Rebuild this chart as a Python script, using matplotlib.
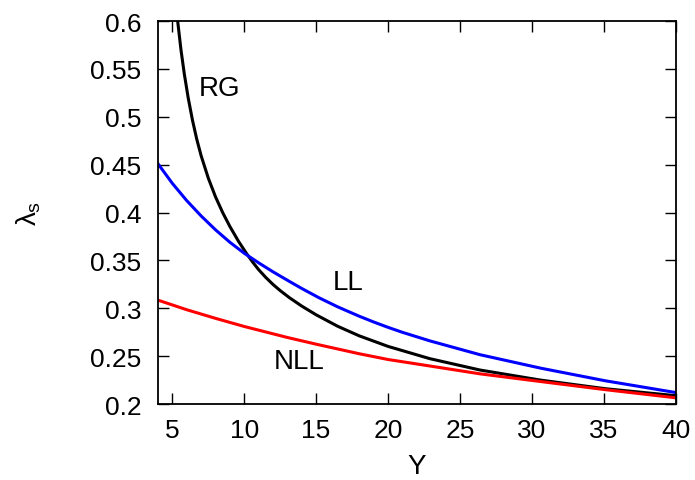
import matplotlib
matplotlib.use("Agg")
import matplotlib.pyplot as plt

plt.rcParams['font.family'] = ['Liberation Sans', 'DejaVu Sans']
plt.rcParams['mathtext.fontset'] = 'custom'
plt.rcParams['mathtext.rm'] = 'Liberation Sans'
plt.rcParams['mathtext.it'] = 'Liberation Sans'

# lambda_s vs Y for the three approximations
rg_y = [5.37, 5.6, 5.83, 6.1, 6.4, 6.7, 7.0, 7.5, 8.0, 8.5, 9.0, 9.6, 10.17,
        10.6, 11.0, 11.5, 12.0, 12.5, 13.15, 14.0, 15.0, 16.5, 18.0, 20.0,
        22.9, 26.4, 30.6, 35.1, 40.0]
rg_lam = [0.600, 0.570, 0.545, 0.520, 0.4965, 0.4765, 0.4595, 0.436, 0.4165,
          0.400, 0.3855, 0.370, 0.357, 0.348, 0.3404, 0.3322, 0.3249, 0.3185,
          0.311, 0.3023, 0.2932, 0.2812, 0.2712, 0.2602, 0.2474, 0.2355,
          0.225, 0.216, 0.2087]

ll_y = [4.0, 5.0, 6.0, 7.0, 8.0, 9.0, 10.0, 11.0, 12.0, 13.15, 14.0, 15.2,
        16.5, 18.0, 19.0, 20.0, 21.0, 22.9, 26.4, 30.6, 35.1, 40.0]
ll_lam = [0.451, 0.4305, 0.4125, 0.3965, 0.382, 0.369, 0.3575, 0.3475, 0.3381,
          0.328, 0.3207, 0.311, 0.3015, 0.2917, 0.2857, 0.2801, 0.2749, 0.266,
          0.2515, 0.2375, 0.2243, 0.212]

nll_y = [4.0, 6.0, 8.0, 10.0, 13.0, 15.0, 18.0, 20.0, 23.0, 26.4, 30.6, 35.1, 40.0]
nll_lam = [0.3085, 0.2985, 0.2895, 0.281, 0.2695, 0.2625, 0.2525, 0.2465, 0.2395,
           0.2315, 0.2235, 0.215, 0.2065]

fig = plt.figure(figsize=(6.95, 4.81), dpi=100)
ax = fig.add_axes([0.2273, 0.158, 0.7447, 0.796])

ax.plot(rg_y, rg_lam, color='black', lw=2.2)
ax.plot(ll_y, ll_lam, color='blue', lw=2.2)
ax.plot(nll_y, nll_lam, color='red', lw=2.2)

ax.text(8.27, 0.530, 'RG', fontsize=20, ha='center', va='center')
ax.text(17.26, 0.3275, 'LL', fontsize=20, ha='center', va='center')
ax.text(13.85, 0.245, 'NLL', fontsize=20, ha='center', va='center')

ax.set_xlim(4, 40)
ax.set_ylim(0.2, 0.6)
ax.set_xticks([5, 10, 15, 20, 25, 30, 35, 40])
ax.set_yticks([0.2, 0.25, 0.3, 0.35, 0.4, 0.45, 0.5, 0.55, 0.6])
ax.set_yticklabels(['0.2', '0.25', '0.3', '0.35', '0.4', '0.45', '0.5', '0.55', '0.6'])
ax.tick_params(direction='in', length=8, width=1.0, top=True, right=True,
               labelsize=19)
ax.tick_params(axis='x', pad=10)
ax.tick_params(axis='y', pad=12)
for s in ax.spines.values():
    s.set_linewidth(1.3)

ax.set_xlabel('Y', fontsize=20)
ax.set_ylabel(r'$\lambda_\mathrm{s}$', fontsize=20)
ax.xaxis.set_label_coords(0.5, -0.127)
ax.yaxis.set_label_coords(-0.222, 0.5)

fig.savefig('out.png', dpi=100)
